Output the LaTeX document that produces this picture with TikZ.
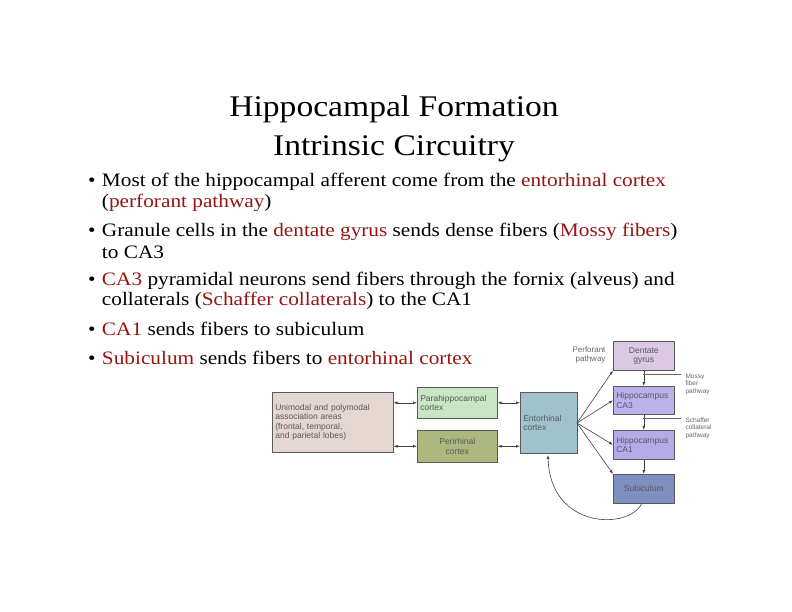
\documentclass[tikz,border=0pt]{standalone}
\usepackage{fontspec}
\setmainfont{Liberation Serif}
\setsansfont{Liberation Sans}
\newfontfamily\wideserif[FakeStretch=1.12]{Liberation Serif}
\usetikzlibrary{arrows.meta}
\definecolor{dred}{RGB}{150,20,20}
\begin{document}
\begin{tikzpicture}[x=1pt,y=-1pt,
  bx/.style={draw=gray!70!black,line width=0.6pt,anchor=north west,inner sep=2pt,font=\sffamily\fontsize{8.5}{9.5}\selectfont,text=black!65,align=left},
  lab/.style={font=\sffamily\fontsize{6.5}{7.5}\selectfont,text=black!60,align=left},
  bl/.style={anchor=west,font=\wideserif\fontsize{19}{19}\selectfont,inner sep=0},
  ar/.style={-{Latex[length=4pt,width=3pt]},line width=0.6pt,black!75},
  dar/.style={{Latex[length=4pt,width=3pt]}-{Latex[length=4pt,width=3pt]},line width=0.6pt,black!75}]
\useasboundingbox (0,0) rectangle (792,612);
\node[font=\wideserif\fontsize{30}{39}\selectfont,align=center] (title) at (394,129) {Hippocampal Formation\\Intrinsic Circuitry};
\foreach \y/\t [count=\i] in {
 182/{\textbullet\,\,Most of the hippocampal afferent come from the \textcolor{dred}{entorhinal cortex}},
 203/{\phantom{\textbullet\,\,}(\textcolor{dred}{perforant pathway})},
 232/{\textbullet\,\,Granule cells in the \textcolor{dred}{dentate gyrus} sends dense fibers (\textcolor{dred}{Mossy fibers})},
 252/{\phantom{\textbullet\,\,}to CA3},
 281/{\textbullet\,\,\textcolor{dred}{CA3} pyramidal neurons send fibers through the fornix (alveus) and},
 301/{\phantom{\textbullet\,\,}collaterals (\textcolor{dred}{Schaffer collaterals}) to the CA1},
 329/{\textbullet\,\,\textcolor{dred}{CA1} sends fibers to subiculum},
 358/{\textbullet\,\,\textcolor{dred}{Subiculum} sends fibers to \textcolor{dred}{entorhinal cortex}}}
 \node[bl] (b\i) at (88,\y) {\t};
\node[bx,fill={rgb,255:red,228;green,214;blue,208},minimum width=121pt,minimum height=60pt,text width=115pt] (uni) at (272,392) {Unimodal and polymodal\\association areas\\(frontal, temporal,\\and parietal lobes)};
\node[bx,fill={rgb,255:red,200;green,230;blue,196},minimum width=80pt,minimum height=31pt,anchor=north west,text width=74pt] (para) at (417,387) {Parahippocampal\\cortex};
\node[bx,fill={rgb,255:red,172;green,184;blue,126},minimum width=80pt,minimum height=32pt,align=center,text width=74pt] (peri) at (417,430) {Perirhinal\\cortex};
\node[bx,fill={rgb,255:red,160;green,194;blue,204},minimum width=57pt,minimum height=61pt,text width=51pt] (ent) at (520,392) {Entorhinal\\cortex};
\node[bx,fill={rgb,255:red,218;green,200;blue,228},minimum width=61pt,minimum height=29pt,align=center,text width=55pt] (dg) at (613,341) {Dentate\\gyrus};
\node[bx,fill={rgb,255:red,186;green,178;blue,234},minimum width=61pt,minimum height=28pt,text width=55pt] (ca3) at (613,386) {Hippocampus\\CA3};
\node[bx,fill={rgb,255:red,180;green,172;blue,232},minimum width=61pt,minimum height=29pt,text width=55pt] (ca1) at (613,430) {Hippocampus\\CA1};
\node[bx,fill={rgb,255:red,128;green,143;blue,194},minimum width=61pt,minimum height=29pt,align=center,text width=55pt] (sub) at (613,474) {Subiculum};
\node[lab,align=right,font=\sffamily\fontsize{8}{9}\selectfont] (perf) at (589,355) {Perforant\\pathway};
\node[lab,anchor=west] (mossy) at (682,384) {Mossy\\fiber\\pathway};
\node[lab,anchor=west] (sch) at (682,428) {Schaffer\\collateral\\pathway};
\draw[dar] (uni.east|-para) -- (para.west);
\draw[dar] (uni.east|-peri) -- (peri.west);
\draw[dar] (para.east) -- (ent.west|-para);
\draw[dar] (peri.east) -- (ent.west|-peri);
\coordinate (src) at (577,423);
\draw[ar] (src) -- (dg.south west);
\draw[ar] (src) -- (ca3.west);
\draw[ar] (src) -- (ca1.west);
\draw[ar] (src) -- (sub.north west);
\draw[ar] (dg) -- (ca3);
\draw[ar] (ca3) -- (ca1);
\draw[ar] (ca1) -- (sub);
\draw[black!60,line width=0.5pt] (643,374) -- (681,374);
\draw[black!60,line width=0.5pt] (643,418) -- (681,418);
\draw[ar] (642,503) .. controls (630,530) and (550,530) .. (548,455);
\end{tikzpicture}
\end{document}
